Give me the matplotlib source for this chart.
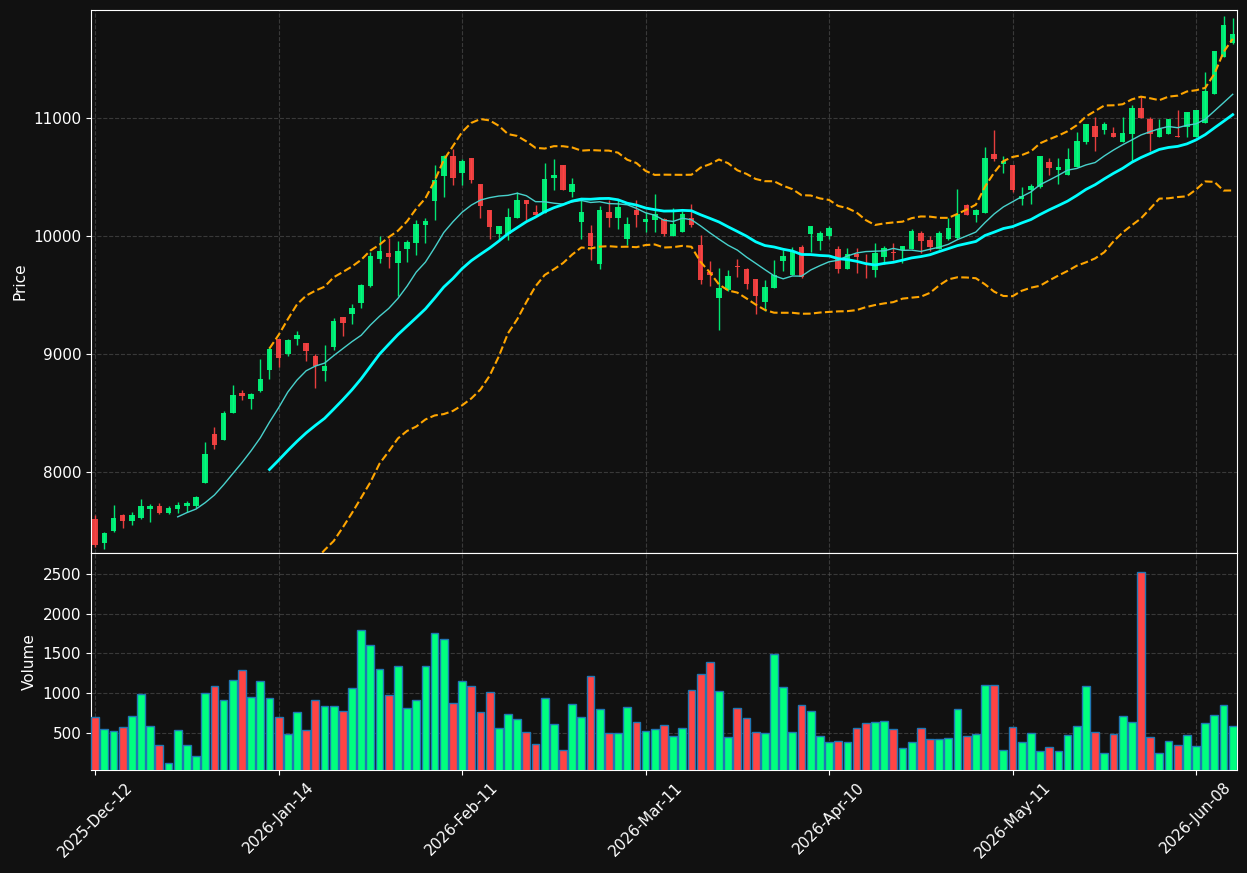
"""Candlestick chart with moving averages, Bollinger bands and volume."""
import matplotlib
matplotlib.use("Agg")
import matplotlib.pyplot as plt
import numpy as np
import pandas as pd

# === Data ===
opens = [7597, 7396, 7498, 7634, 7583, 7603, 7679, 7711, 7651, 7685,
         7711, 7711, 7906, 8323, 8272, 8501, 8671, 8620, 8688, 8867,
         9122, 8997, 9122, 9088, 8986, 8853, 9054, 9309, 9337, 9430,
         9572, 9804, 9853, 9768, 9887, 9940, 10093, 10295, 10510, 10680,
         10535, 10660, 10439, 10218, 10014, 10014, 10150, 10303, 10201, 10193,
         10490, 10601, 10374, 10119, 10023, 9759, 10201, 10150, 9972, 10218,
         10116, 10133, 10142, 9997, 10034, 10156, 9921, 9691, 9470, 9538,
         9742, 9717, 9632, 9436, 9555, 9785, 9666, 9904, 10014, 9955,
         9997, 9887, 9717, 9844, 9790, 9708, 9819, 9861, 9881, 9887,
         10023, 9963, 9887, 9972, 9980, 10261, 10176, 10193, 10694, 10609,
         10601, 10312, 10388, 10417, 10626, 10561, 10518, 10586, 10796, 10932,
         10898, 10873, 10796, 10864, 11085, 10992, 10839, 10864, 10847, 10924,
         10839, 10958, 11207, 11519, 11638]
highs = [7634, 7485, 7719, 7640, 7657, 7767, 7725, 7733, 7711, 7745,
         7748, 7790, 8255, 8382, 8518, 8739, 8694, 8665, 8957, 9060,
         9130, 9122, 9198, 9095, 9000, 9079, 9303, 9317, 9425, 9590,
         9864, 10000, 9983, 9960, 9963, 10139, 10156, 10601, 10691, 10742,
         10657, 10665, 10445, 10225, 10085, 10241, 10377, 10310, 10261, 10618,
         10657, 10605, 10496, 10303, 10096, 10255, 10303, 10303, 10159, 10303,
         10204, 10360, 10156, 10241, 10212, 10275, 10006, 9785, 9731, 9708,
         9802, 9728, 9636, 9623, 9793, 9878, 9906, 9921, 10082, 10040,
         10082, 9915, 9901, 9901, 9850, 9943, 9918, 9943, 9918, 10062,
         10040, 10003, 10040, 10150, 10397, 10275, 10232, 10754, 10898, 10677,
         10605, 10417, 10445, 10680, 10666, 10666, 10745, 10887, 10950, 11006,
         10966, 10926, 11006, 11111, 11187, 11006, 10992, 10992, 11068, 11051,
         11068, 11391, 11570, 11867, 11847]
lows = [7360, 7340, 7484, 7521, 7546, 7600, 7569, 7645, 7645, 7648,
        7654, 7688, 7900, 8189, 8266, 8495, 8609, 8529, 8674, 8787,
        8886, 8983, 9079, 8938, 8711, 8773, 9034, 9153, 9255, 9391,
        9566, 9773, 9728, 9490, 9779, 9838, 9940, 10139, 10331, 10436,
        10436, 10450, 10153, 9977, 9977, 9963, 10150, 10139, 10167, 10193,
        10394, 10391, 10331, 9977, 9799, 9722, 10076, 10057, 9921, 10076,
        10034, 10034, 9997, 9997, 10034, 10076, 9595, 9575, 9204, 9532,
        9651, 9549, 9340, 9362, 9555, 9702, 9666, 9640, 9864, 9881,
        9974, 9688, 9717, 9688, 9646, 9651, 9765, 9793, 9773, 9887,
        9858, 9872, 9887, 9963, 9972, 10176, 10122, 10193, 10635, 10535,
        10374, 10261, 10275, 10410, 10518, 10445, 10518, 10586, 10782, 10722,
        10867, 10839, 10796, 10637, 11000, 10722, 10839, 10864, 10841, 10839,
        10839, 10958, 11207, 11519, 11629]
closes = [7379, 7481, 7609, 7583, 7634, 7711, 7711, 7651, 7694, 7714,
          7736, 7787, 8153, 8229, 8501, 8654, 8646, 8663, 8790, 9042,
          8963, 9119, 9164, 9022, 8901, 8901, 9283, 9260, 9385, 9581,
          9827, 9870, 9821, 9870, 9946, 10099, 10125, 10479, 10680, 10493,
          10635, 10473, 10252, 10076, 10082, 10159, 10303, 10269, 10176, 10482,
          10516, 10391, 10439, 10201, 9912, 10218, 10150, 10244, 10099, 10176,
          10142, 10184, 10014, 10099, 10184, 10091, 9623, 9666, 9555, 9657,
          9734, 9589, 9487, 9564, 9666, 9827, 9864, 9649, 10082, 10023,
          10065, 9717, 9850, 9819, 9785, 9858, 9895, 9855, 9918, 10040,
          9955, 9904, 10023, 10065, 10184, 10176, 10218, 10660, 10652, 10635,
          10388, 10340, 10425, 10677, 10578, 10584, 10652, 10805, 10949, 10839,
          10949, 10839, 10873, 11085, 11000, 10864, 10907, 10992, 10841, 11051,
          11068, 11230, 11570, 11791, 11714]
volumes = [698, 546, 520, 571, 711, 990, 584, 343, 115, 533,
           343, 204, 1002, 1091, 914, 1167, 1294, 952, 1155, 939,
           698, 483, 762, 533, 914, 838, 838, 774, 1066, 1801,
           1611, 1307, 977, 1345, 812, 914, 1345, 1763, 1687, 876,
           1155, 1091, 762, 1015, 559, 736, 673, 508, 356, 939,
           609, 280, 863, 698, 1218, 800, 495, 495, 825, 635,
           520, 546, 597, 457, 559, 1040, 1243, 1396, 1028, 444,
           812, 685, 508, 495, 1497, 1079, 508, 850, 774, 457,
           381, 394, 381, 559, 622, 635, 647, 546, 305, 381,
           559, 419, 419, 432, 800, 457, 483, 1104, 1104, 280,
           571, 381, 495, 267, 318, 267, 470, 584, 1091, 508,
           242, 483, 711, 635, 2524, 444, 242, 394, 343, 470,
           330, 622, 723, 850, 584]
tick_labels = ["2025-Dec-12", "2026-Jan-14", "2026-Feb-11", "2026-Mar-11",
               "2026-Apr-10", "2026-May-11", "2026-Jun-08"]

BG = "#111111"
UP = "#00ff7f"
DOWN = "#ff4444"

df = pd.DataFrame({"open": opens, "high": highs, "low": lows,
                   "close": closes, "volume": volumes})
x = np.arange(len(df))
up = df["close"] >= df["open"]
colors = np.where(up, UP, DOWN)

sma10 = df["close"].rolling(10).mean()
sma20 = df["close"].rolling(20).mean()
std20 = df["close"].rolling(20).std()
bb_up = sma20 + 2 * std20
bb_lo = sma20 - 2 * std20

fig = plt.figure(figsize=(12.47, 8.73), dpi=100, facecolor=BG)
gs = fig.add_gridspec(2, 1, height_ratios=[2.5, 1], hspace=0,
                      left=0.073, right=0.992, top=0.9885, bottom=0.118)
ax = fig.add_subplot(gs[0])
ax_vol = fig.add_subplot(gs[1], sharex=ax)

# candles
body_lo = np.minimum(df["open"], df["close"])
body_h = np.maximum((df["close"] - df["open"]).abs(), 6)
ax.vlines(x, df["low"], df["high"], colors=colors, linewidth=1, alpha=0.9, zorder=2)
ax.bar(x, body_h, width=0.6, bottom=body_lo, color=colors, alpha=0.9,
       linewidth=0, zorder=3)

ax.plot(x, sma10, color="#48d1cc", linewidth=1, zorder=4)
ax.plot(x, sma20, color="#00ffff", linewidth=2, zorder=4)
ax.plot(x, bb_up, color="orange", linestyle="--", linewidth=1.5, zorder=4)
ax.plot(x, bb_lo, color="orange", linestyle="--", linewidth=1.5, zorder=4)

ax_vol.bar(x, df["volume"], width=0.85, color=colors, edgecolor="#1f77b4",
           linewidth=1, zorder=3)

ax.set_ylim(7311, 11918)
ax.set_yticks([8000, 9000, 10000, 11000])
ax_vol.set_ylim(30, 2770)
ax_vol.set_yticks([500, 1000, 1500, 2000, 2500])
ax.set_xlim(-0.45, 124.47)
ax_vol.set_xticks(np.arange(0, 121, 20))
ax_vol.set_xticklabels(tick_labels, rotation=45, ha="center")
plt.setp(ax.get_xticklabels(), visible=False)

ax.set_ylabel("Price", color="white", fontsize=11)
ax_vol.set_ylabel("Volume", color="white", fontsize=11)

for a in (ax, ax_vol):
    a.set_facecolor(BG)
    a.grid(True, color="#555555", linestyle="--", linewidth=0.8, alpha=0.6, zorder=0)
    a.set_axisbelow(True)
    a.tick_params(colors="white", labelsize=11)
    for s in a.spines.values():
        s.set_color("white")

fig.savefig("out.png", dpi=100, facecolor=BG)
